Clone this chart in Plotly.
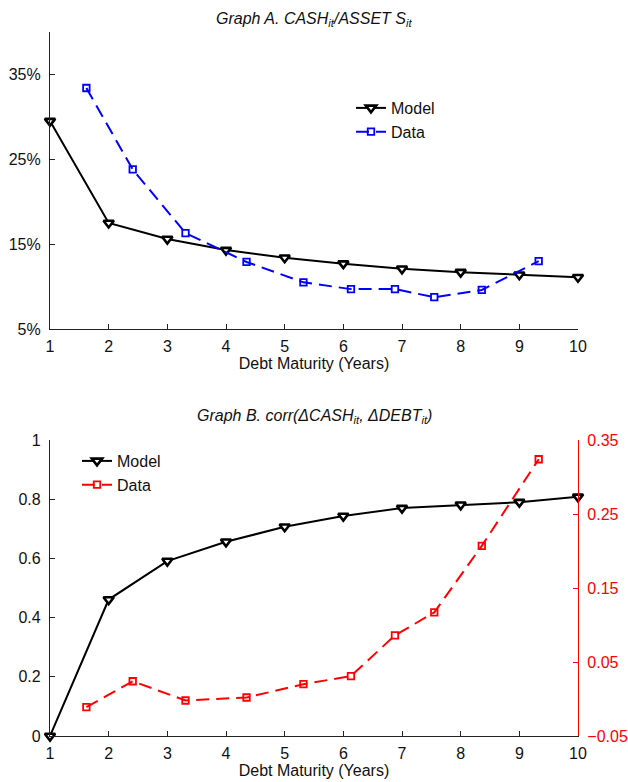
import plotly.graph_objects as go

maturity = [1, 2, 3, 4, 5, 6, 7, 8, 9, 10]
data_x = [1.62, 2.41, 3.31, 4.35, 5.32, 6.13, 6.88, 7.55, 8.36, 9.33]
cash_model = [29.5, 17.5, 15.6, 14.3, 13.4, 12.7, 12.1, 11.7, 11.4, 11.1]
cash_data = [33.4, 23.8, 16.3, 12.9, 10.5, 9.7, 9.7, 8.75, 9.6, 13.0]
corr_model = [0.0, 0.461, 0.591, 0.656, 0.707, 0.743, 0.770, 0.781, 0.790, 0.808]
corr_data = [-0.011, 0.024, -0.002, 0.002, 0.020, 0.031, 0.086, 0.117, 0.207, 0.324]

cash_ticks = [5, 15, 25, 35]
cash_ticktext = ["5%", "15%", "25%", "35%"]
corr_ticks = [0, 0.2, 0.4, 0.6, 0.8, 1]
corr_ticktext = ["0", "0.2", "0.4", "0.6", "0.8", "1"]
right_ticks = [-0.05, 0.05, 0.15, 0.25, 0.35]
right_ticktext = ["\u22120.05", "0.05", "0.15", "0.25", "0.35"]

W, H = 628, 782
FONT = "Liberation Sans, Arial, Helvetica, sans-serif"
AX = "#222222"
FS = 16

def px_x(p):
    return p / W

def px_y(p):
    return 1 - p / H

model_marker = dict(symbol="triangle-down", size=9, color="white",
                    line=dict(color="black", width=2.6))

fig = go.Figure()

fig.add_trace(go.Scatter(x=maturity, y=cash_model, name="Model", mode="lines+markers",
                         line=dict(color="black", width=2), marker=model_marker,
                         xaxis="x", yaxis="y", legend="legend", cliponaxis=False))
fig.add_trace(go.Scatter(x=data_x, y=cash_data, name="Data", mode="lines+markers",
                         line=dict(color="#0000ff", width=2, dash="13px,7px"),
                         marker=dict(symbol="square-open", size=6.5, color="#0000ff",
                                     line=dict(width=1.8)),
                         xaxis="x", yaxis="y", legend="legend", cliponaxis=False))

fig.add_trace(go.Scatter(x=maturity, y=corr_model, name="Model", mode="lines+markers",
                         line=dict(color="black", width=2), marker=model_marker,
                         xaxis="x2", yaxis="y2", legend="legend2", cliponaxis=False))
fig.add_trace(go.Scatter(x=data_x, y=corr_data, name="Data", mode="lines+markers",
                         line=dict(color="#ff0000", width=2, dash="13px,7px"),
                         marker=dict(symbol="square-open", size=6.5, color="#ff0000",
                                     line=dict(width=1.8)),
                         xaxis="x2", yaxis="y3", legend="legend2", cliponaxis=False))

xdom = [px_x(50), px_x(578)]
common_x = dict(range=[1, 10], tickvals=maturity, ticks="inside", ticklen=5,
                tickcolor=AX, showline=True, linecolor=AX, linewidth=1.2,
                showgrid=False, zeroline=False, tickfont=dict(size=FS, color="#111"),
                ticklabelstandoff=3, automargin=False,
                title=dict(text="Debt Maturity (Years)", font=dict(size=FS, color="#111"),
                           standoff=3))

fig.update_layout(
    width=W, height=H,
    margin=dict(l=0, r=0, t=0, b=0, autoexpand=False),
    paper_bgcolor="white", plot_bgcolor="white",
    font=dict(family=FONT, color="#111"),
    showlegend=True,
    xaxis=dict(domain=xdom, anchor="y", **common_x),
    xaxis2=dict(domain=xdom, anchor="y2", **common_x),
    yaxis=dict(domain=[px_y(329), px_y(32)], anchor="x", range=[5, 40],
               tickvals=cash_ticks, ticktext=cash_ticktext, ticks="inside", ticklen=5,
               tickcolor=AX, showline=True, linecolor=AX, linewidth=1.2,
               showgrid=False, zeroline=False, tickfont=dict(size=FS, color="#111"),
               ticklabelstandoff=5, automargin=False),
    yaxis2=dict(domain=[px_y(736), px_y(440)], anchor="x2", range=[0, 1],
                tickvals=corr_ticks, ticktext=corr_ticktext, ticks="inside", ticklen=5,
                tickcolor=AX, showline=True, linecolor=AX, linewidth=1.2,
                showgrid=False, zeroline=False, tickfont=dict(size=FS, color="#111"),
                ticklabelstandoff=5, automargin=False),
    yaxis3=dict(overlaying="y2", anchor="x2", side="right", range=[-0.05, 0.35],
                tickvals=right_ticks, ticktext=right_ticktext, ticks="inside", ticklen=5,
                tickcolor="#ff0000", showline=True, linecolor="#ff0000", linewidth=1.2,
                showgrid=False, zeroline=False, tickfont=dict(size=FS, color="#ff0000"),
                ticklabelstandoff=5, automargin=False),
    legend=dict(x=px_x(351), y=px_y(91), xanchor="left", yanchor="top",
                bgcolor="rgba(0,0,0,0)", font=dict(size=FS, color="#111"),
                tracegroupgap=0, itemwidth=30),
    legend2=dict(x=px_x(77), y=px_y(444), xanchor="left", yanchor="top",
                 bgcolor="rgba(0,0,0,0)", font=dict(size=FS, color="#111"),
                 tracegroupgap=0, itemwidth=30),
    annotations=[
        dict(text="<i>Graph A. CASH<sub>it</sub>/ASSET S<sub>it</sub></i>", x=0.5, y=px_y(19),
             xref="paper", yref="paper", xanchor="center", yanchor="middle",
             showarrow=False, font=dict(size=FS, color="#111")),
        dict(text="<i>Graph B. corr(\u0394CASH<sub>it</sub>, \u0394DEBT<sub>it</sub>)</i>", x=0.5,
             y=px_y(416), xref="paper", yref="paper", xanchor="center", yanchor="middle",
             showarrow=False, font=dict(size=FS, color="#111")),
    ],
)

fig.write_html("out.html")
